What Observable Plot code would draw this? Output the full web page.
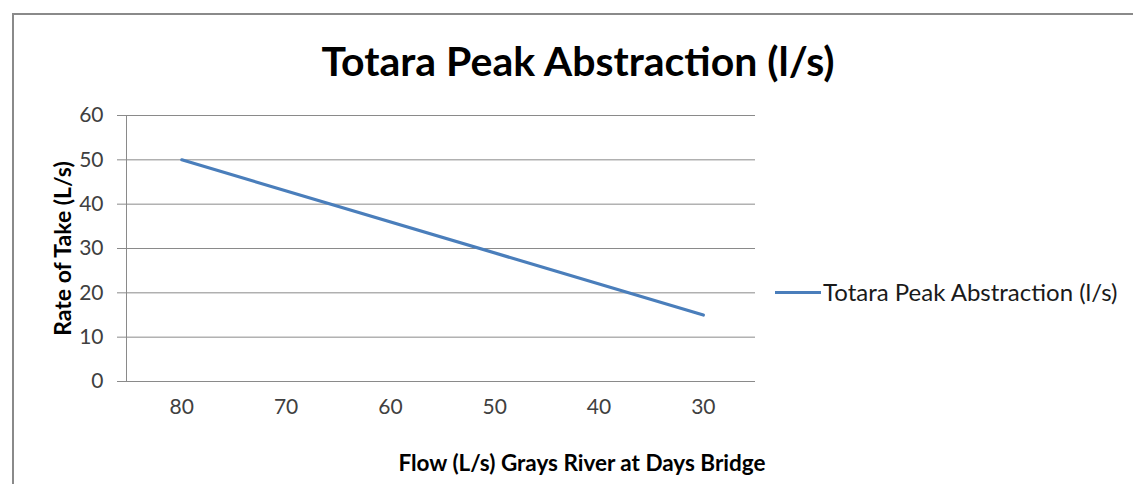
<!DOCTYPE html>
<html>
<head>
<meta charset="utf-8">
<script src="https://cdn.jsdelivr.net/npm/d3@7"></script>
<script src="https://cdn.jsdelivr.net/npm/@observablehq/plot@0.6"></script>
<style>
  html, body { margin: 0; padding: 0; background: #fff; }
  #wrap { position: relative; width: 1135px; height: 484px; overflow: hidden; font-family: Lato, "Open Sans", sans-serif; }
  #border { position: absolute; left: 12px; top: 13px; width: 1121px; height: 480px; border-top: 2px solid #8a8a8a; border-left: 2px solid #8a8a8a; box-sizing: border-box; }
  #title { position: absolute; left: 0; width: 1156px; top: 36px; text-align: center; font-weight: bold; font-size: 41px; line-height: 1.2; color: #000; }
  #chart { position: absolute; left: 0; top: 90px; }
  #legend { position: absolute; left: 775px; top: 278px; font-size: 24px; line-height: 28px; color: #1a1a1a; display: flex; align-items: center; white-space: nowrap; }
  #legend .sw { display: inline-block; width: 46px; height: 3px; background: #4a7ebb; margin-right: 2px; }
</style>
</head>
<body>
<div id="wrap">
  <div id="border"></div>
  <div id="title">Totara Peak Abstraction (l/s)</div>
  <div id="chart"></div>
  <div id="legend"><span class="sw"></span><span>Totara Peak Abstraction (l/s)</span></div>
</div>
<script>
const flow = [80, 30];
const rate = [50, 15];
const xTicks = [80, 70, 60, 50, 40, 30];
const yTicks = [0, 10, 20, 30, 40, 50, 60];
const xDomain = [85.3, 25];
const yDomain = [0, 60];
const xTitle = "Flow (L/s) Grays River at Days Bridge";
const yTitle = "Rate of Take (L/s)";
const lineColor = "#4a7ebb";

const data = flow.map((f, i) => ({flow: f, rate: rate[i]}));

const plot = Plot.plot({
  width: 760,
  height: 394,
  marginLeft: 126,
  marginRight: 5,
  marginTop: 25,
  marginBottom: 103,
  style: {fontFamily: "Lato, 'Open Sans', sans-serif", fontSize: "21px", color: "#404040", background: "transparent", overflow: "visible"},
  x: {domain: xDomain, ticks: xTicks},
  y: {domain: yDomain, ticks: yTicks},
  marks: [
    Plot.gridY(yTicks, {stroke: "#8a8a8a", strokeOpacity: 1, strokeWidth: 1}),
    Plot.ruleX([xDomain[0]], {stroke: "#8a8a8a", strokeWidth: 1}),
    Plot.axisY(yTicks, {tickSize: 9, tickPadding: 14, stroke: "#8a8a8a", fill: "#404040", label: null}),
    Plot.axisX(xTicks, {tickSize: 0, tickPadding: 18, fill: "#404040", label: null}),
    Plot.line(data, {x: "flow", y: "rate", stroke: lineColor, strokeWidth: 3.2}),
    Plot.text([yTitle], {frameAnchor: "left", textAnchor: "middle", dx: -63, rotate: -90, fontWeight: "bold", fontSize: 23, fill: "#000"}),
    Plot.text([xTitle], {frameAnchor: "bottom", dx: 141, dy: 89, fontWeight: "bold", fontSize: 22.5, fill: "#000"})
  ]
});
document.getElementById("chart").appendChild(plot);
</script>
</body>
</html>
